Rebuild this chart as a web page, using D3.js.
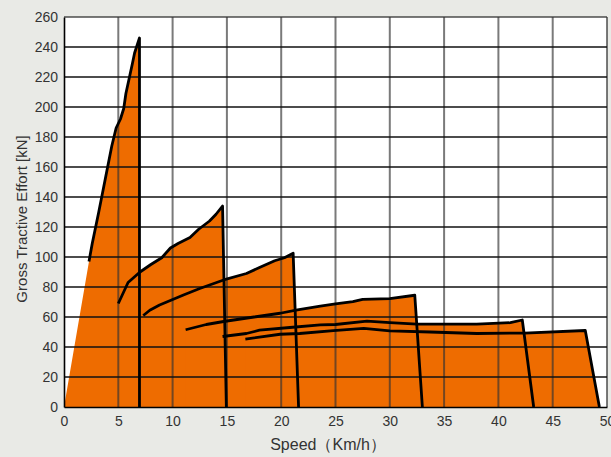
<!DOCTYPE html>
<html><head><meta charset="utf-8">
<script src="https://cdn.jsdelivr.net/npm/d3@7"></script>
<style>
html,body{margin:0;padding:0;background:#e9eae6;}
svg{display:block;}
text{font-family:"Liberation Sans",Arial,sans-serif;fill:#333;}
</style></head><body>
<svg id="chart" width="611" height="457"></svg>
<script>
// Data: each gear curve [speed km/h, effort kN]; drop = speed where the curve reaches 0
const curve1 = [[2.3,97],[2.6,109],[3.2,130],[3.8,152],[4.4,174],[4.8,186],[5.2,192],[5.5,199],[5.7,209],[6.0,219],[6.3,229],[6.5,236],[6.95,246]];
const curve2 = [[5.0,69],[5.9,83],[7.0,90],[8.0,95],[9.0,99.5],[9.8,106],[10.5,109],[11.6,113],[12.4,118.5],[13.4,124],[14.0,128.5],[14.6,134]];
const curve3 = [[7.3,61],[7.9,64.5],[8.8,68],[9.9,71.3],[11.0,74.7],[12.5,79],[14.7,84.7],[16.8,89],[18.0,93],[19.4,97.5],[20.3,99.5],[21.1,102.5]];
const curve4 = [[11.2,51.5],[13.1,55],[14.7,57],[17.5,60],[19.9,62.5],[21.5,64.8],[23.6,67.3],[25.0,68.7],[26.6,70.2],[27.5,71.8],[30.0,72.3],[32.3,74.5]];
const curve5 = [[14.6,47],[16.8,49],[18.0,51.2],[20.8,53],[23.6,54.7],[25.0,55],[27.9,57.3],[30.0,56.2],[32.5,55.2],[35.5,55.2],[38.0,55.3],[41.1,56.2],[42.2,58]];
const curve6 = [[16.7,45.3],[19.9,48.5],[21.7,49],[24.8,50.9],[27.6,52.4],[30.0,50.8],[33.7,50],[38.0,49],[42.4,49.3],[48.0,51]];
const drops = [6.95, 14.95, 21.6, 33.0, 43.25, 49.3];
const curves = [curve1, curve2, curve3, curve4, curve5, curve6];
const xTicks = [0,5,10,15,20,25,30,35,40,45,50];
const yTicks = [0,20,40,60,80,100,120,140,160,180,200,220,240,260];

const svg = d3.select("#chart");
const L = 64, R = 607, T = 17, B = 407;
const x = d3.scaleLinear().domain([0,50]).range([L,R]);
const y = d3.scaleLinear().domain([0,260]).range([B,T]);

svg.append("rect").attr("x",L).attr("y",T).attr("width",R-L).attr("height",B-T).attr("fill","#fff");

const area = d3.line().x(d=>x(d[0])).y(d=>y(d[1]));
// fills
curves.forEach((c,i)=>{
  const start = i===0 ? [[0,0]] : [[c[0][0],0]];
  const pts = start.concat(c, [[drops[i],0]]);
  svg.append("path").attr("d", area(pts)+"Z").attr("fill","#ee6c00");
});

// grid
const g = svg.append("g");
xTicks.slice(1).forEach(t=>{
  g.append("line").attr("x1",x(t)).attr("x2",x(t)).attr("y1",T).attr("y2",B)
   .attr("stroke","rgba(50,50,50,0.65)").attr("stroke-width",2);
});
yTicks.slice(1).forEach(t=>{
  g.append("line").attr("x1",L).attr("x2",R).attr("y1",y(t)).attr("y2",y(t))
   .attr("stroke", t===260 ? "rgba(50,50,50,0.65)" : "#111").attr("stroke-width", t===260?2:1.3);
});

// curves
curves.forEach((c,i)=>{
  const pts = c.concat([[drops[i],0]]);
  svg.append("path").attr("d", area(pts)).attr("fill","none").attr("stroke","#000")
    .attr("stroke-width",2.8).attr("stroke-linejoin","round").attr("stroke-linecap","butt");
});

// axes
const xa = svg.append("g").attr("transform",`translate(0,${B})`)
  .call(d3.axisBottom(x).tickValues(xTicks).tickSize(0).tickPadding(9));
const ya = svg.append("g").attr("transform",`translate(${L},0)`)
  .call(d3.axisLeft(y).tickValues(yTicks).tickSize(0).tickPadding(6));
[xa,ya].forEach(a=>{
  a.select(".domain").attr("stroke","#000").attr("stroke-width",1.6);
  a.selectAll("text").attr("font-size",14).attr("fill","#333").attr("font-family","'Liberation Sans',Arial,sans-serif");
});

svg.append("text").attr("x",328).attr("y",450).attr("text-anchor","middle")
  .attr("font-size",16).text("Speed（Km/h）");
svg.append("text").attr("transform","translate(27,219) rotate(-90)").attr("text-anchor","middle")
  .attr("font-size",15).text("Gross Tractive Effort [kN]");
</script>
</body></html>
